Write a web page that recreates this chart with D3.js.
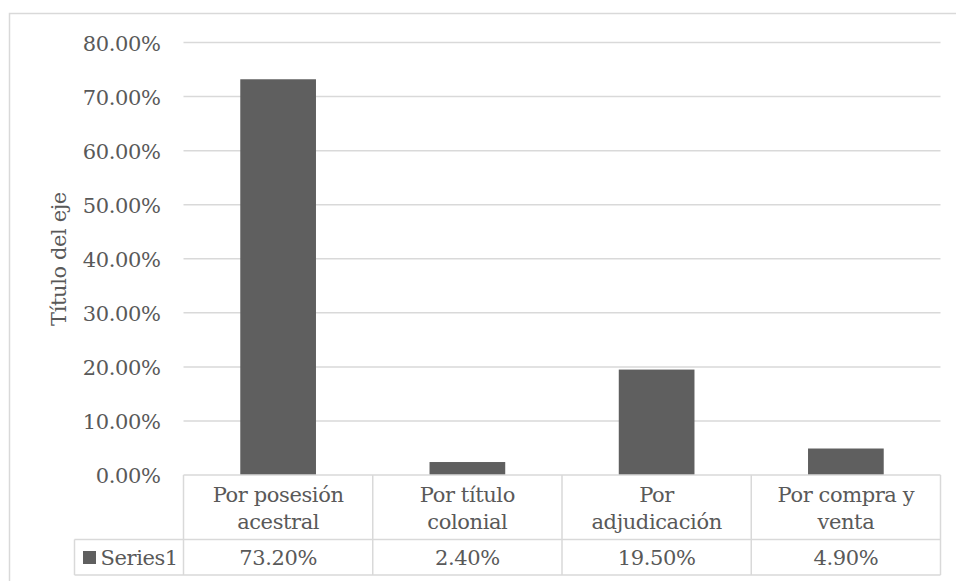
<!DOCTYPE html>
<html>
<head>
<meta charset="utf-8">
<script src="https://cdn.jsdelivr.net/npm/d3@7"></script>
<style>
  html, body { margin: 0; padding: 0; background: #fff; }
  svg text { font-family: "DejaVu Serif", serif; fill: #595959; letter-spacing: -0.4px; }
</style>
</head>
<body>
<svg id="chart" width="956" height="581"></svg>
<script>
const categories = [["Por posesión", "acestral"], ["Por título", "colonial"], ["Por", "adjudicación"], ["Por compra y", "venta"]];
const values = [73.2, 2.4, 19.5, 4.9];
const valueLabels = ["73.20%", "2.40%", "19.50%", "4.90%"];
const seriesName = "Series1";
const yTicks = [0, 10, 20, 30, 40, 50, 60, 70, 80];
const yTitle = "Título del eje";

(function () {
const svg = d3.select("#chart");
const grid = "#d9d9d9";
const barColor = "#5f5f5f";
const fs = 21;

const plotL = 183.5, plotR = 940.5, plotT = 42.5, plotB = 475;
const tableLeft = 74.5, rowLine = 539.5, tableBottom = 575;

// outer border
svg.append("rect").attr("x", 9.5).attr("y", 13.5).attr("width", 1000).attr("height", 700)
  .attr("fill", "none").attr("stroke", grid).attr("stroke-width", 1.5);

const x = d3.scaleBand().domain(d3.range(categories.length)).range([plotL, plotR])
  .paddingInner(0.6).paddingOuter(0.3);
const y = d3.scaleLinear().domain([0, 80]).range([plotB, plotT]);

// gridlines
svg.append("g").selectAll("line").data(yTicks.filter(d => d > 0)).join("line")
  .attr("x1", plotL).attr("x2", plotR)
  .attr("y1", d => y(d)).attr("y2", d => y(d))
  .attr("stroke", grid).attr("stroke-width", 1.5);

// y tick labels
const yAxis = d3.axisLeft(y).tickValues(yTicks).tickFormat(d => d3.format(".2f")(d) + "%").tickSize(0).tickPadding(0);
const yg = svg.append("g").attr("transform", `translate(160.5,0)`).call(yAxis);
yg.select(".domain").remove();
yg.selectAll("text").attr("font-size", fs).attr("font-family", "DejaVu Serif").attr("fill", "#595959")
  .attr("dy", "0.36em");

// y title
svg.append("text").attr("transform", `translate(66,259) rotate(-90)`)
  .attr("text-anchor", "middle").attr("font-size", fs).text(yTitle);

// bars
svg.append("g").selectAll("rect").data(values).join("rect")
  .attr("x", (d, i) => x(i)).attr("width", x.bandwidth())
  .attr("y", d => y(d)).attr("height", d => y(0) - y(d))
  .attr("fill", barColor);

// data table
const tg = svg.append("g").attr("stroke", grid).attr("stroke-width", 1.5);
const colEdges = d3.range(categories.length + 1).map(i => plotL + i * (plotR - plotL) / categories.length);
tg.append("line").attr("x1", plotL).attr("x2", plotR).attr("y1", plotB).attr("y2", plotB);
tg.append("line").attr("x1", tableLeft).attr("x2", plotR).attr("y1", rowLine).attr("y2", rowLine);
tg.append("line").attr("x1", tableLeft).attr("x2", plotR).attr("y1", tableBottom).attr("y2", tableBottom);
tg.append("line").attr("x1", tableLeft).attr("x2", tableLeft).attr("y1", rowLine).attr("y2", tableBottom);
tg.selectAll(".col").data(colEdges).join("line").attr("class", "col")
  .attr("x1", d => d).attr("x2", d => d).attr("y1", plotB).attr("y2", tableBottom);

const cx = i => x(i) + x.bandwidth() / 2;
svg.append("g").selectAll("text").data(categories).join("text")
  .attr("text-anchor", "middle").attr("font-size", fs)
  .each(function(d, i) {
    const t = d3.select(this);
    d.forEach((line, k) => {
      t.append("tspan").attr("x", cx(i)).attr("y", 502 + k * 27).text(line);
    });
  });

svg.append("g").selectAll("text").data(valueLabels).join("text")
  .attr("text-anchor", "middle").attr("font-size", fs)
  .attr("x", (d, i) => cx(i)).attr("y", 565).text(d => d);

// legend key + series name
svg.append("rect").attr("x", 83).attr("y", 551).attr("width", 13).attr("height", 13).attr("fill", barColor);
svg.append("text").attr("x", 100.5).attr("y", 565).attr("font-size", fs).text(seriesName);
})();
</script>
</body>
</html>
